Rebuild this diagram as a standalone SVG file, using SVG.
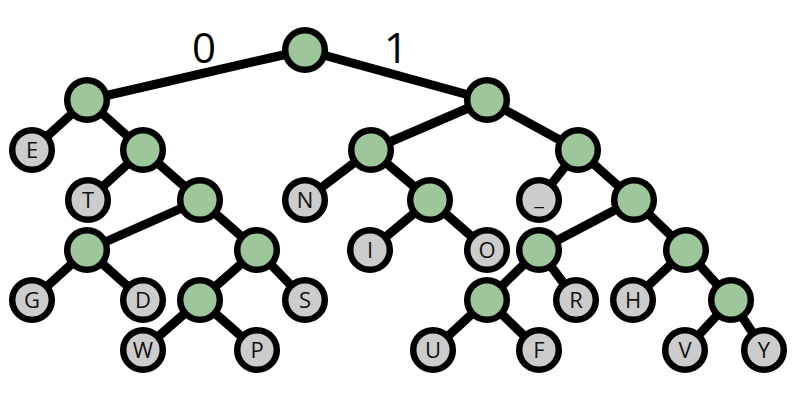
<svg xmlns="http://www.w3.org/2000/svg" width="796" height="400" viewBox="0 0 796 400">
<style>
.e{stroke:#000;stroke-width:9;stroke-linecap:round}
.n circle{stroke:#000;stroke-width:6.5}
.g circle{fill:#9dc79b}
.l circle{fill:#cccccc}
.l text{font-family:"Open Sans","Liberation Sans",sans-serif;font-size:22px;text-anchor:middle;fill:#111}
.lbl{font-family:"Open Sans","Liberation Sans",sans-serif;font-size:42px;text-anchor:middle;fill:#000}
</style>
<rect width="796" height="400" fill="#fff"/>
<g id="edges">
<line class="e" x1="305" y1="50" x2="87" y2="100"/>
<line class="e" x1="305" y1="50" x2="487" y2="100"/>
<line class="e" x1="87" y1="100" x2="32" y2="150"/>
<line class="e" x1="87" y1="100" x2="143" y2="150"/>
<line class="e" x1="143" y1="150" x2="88" y2="200"/>
<line class="e" x1="143" y1="150" x2="200" y2="200"/>
<line class="e" x1="200" y1="200" x2="87" y2="250"/>
<line class="e" x1="200" y1="200" x2="257" y2="250"/>
<line class="e" x1="87" y1="250" x2="32" y2="300"/>
<line class="e" x1="87" y1="250" x2="143" y2="300"/>
<line class="e" x1="257" y1="250" x2="200" y2="300"/>
<line class="e" x1="257" y1="250" x2="305" y2="300"/>
<line class="e" x1="200" y1="300" x2="143" y2="350"/>
<line class="e" x1="200" y1="300" x2="257" y2="350"/>
<line class="e" x1="487" y1="100" x2="371" y2="150"/>
<line class="e" x1="487" y1="100" x2="578" y2="150"/>
<line class="e" x1="371" y1="150" x2="305" y2="200"/>
<line class="e" x1="371" y1="150" x2="430" y2="200"/>
<line class="e" x1="430" y1="200" x2="370" y2="250"/>
<line class="e" x1="430" y1="200" x2="487" y2="250"/>
<line class="e" x1="578" y1="150" x2="539" y2="200"/>
<line class="e" x1="578" y1="150" x2="634" y2="200"/>
<line class="e" x1="634" y1="200" x2="539" y2="250"/>
<line class="e" x1="634" y1="200" x2="686" y2="250"/>
<line class="e" x1="539" y1="250" x2="487" y2="300"/>
<line class="e" x1="539" y1="250" x2="576" y2="300"/>
<line class="e" x1="487" y1="300" x2="433" y2="350"/>
<line class="e" x1="487" y1="300" x2="539" y2="350"/>
<line class="e" x1="686" y1="250" x2="633" y2="300"/>
<line class="e" x1="686" y1="250" x2="731" y2="300"/>
<line class="e" x1="731" y1="300" x2="685" y2="350"/>
<line class="e" x1="731" y1="300" x2="764" y2="350"/>
</g>
<text class="lbl" x="204" y="63">0</text>
<text class="lbl" x="396" y="63">1</text>
<g id="root" class="n g"><circle cx="305" cy="50" r="19.8"/></g>
<g id="n0" class="n g"><circle cx="87" cy="100" r="19.8"/></g>
<g id="n1" class="n g"><circle cx="487" cy="100" r="19.8"/></g>
<g id="n01" class="n g"><circle cx="143" cy="150" r="19.8"/></g>
<g id="n011" class="n g"><circle cx="200" cy="200" r="19.8"/></g>
<g id="n0110" class="n g"><circle cx="87" cy="250" r="19.8"/></g>
<g id="n0111" class="n g"><circle cx="257" cy="250" r="19.8"/></g>
<g id="n01110" class="n g"><circle cx="200" cy="300" r="19.8"/></g>
<g id="n10" class="n g"><circle cx="371" cy="150" r="19.8"/></g>
<g id="n101" class="n g"><circle cx="430" cy="200" r="19.8"/></g>
<g id="n11" class="n g"><circle cx="578" cy="150" r="19.8"/></g>
<g id="n111" class="n g"><circle cx="634" cy="200" r="19.8"/></g>
<g id="n1110" class="n g"><circle cx="539" cy="250" r="19.8"/></g>
<g id="n11100" class="n g"><circle cx="487" cy="300" r="19.8"/></g>
<g id="n1111" class="n g"><circle cx="686" cy="250" r="19.8"/></g>
<g id="n11111" class="n g"><circle cx="731" cy="300" r="19.8"/></g>
<g id="E" class="n l"><circle cx="32" cy="150" r="19.8"/><text x="32" y="158">E</text></g>
<g id="T" class="n l"><circle cx="88" cy="200" r="19.8"/><text x="88" y="208">T</text></g>
<g id="G" class="n l"><circle cx="32" cy="300" r="19.8"/><text x="32" y="308">G</text></g>
<g id="D" class="n l"><circle cx="143" cy="300" r="19.8"/><text x="143" y="308">D</text></g>
<g id="S" class="n l"><circle cx="305" cy="300" r="19.8"/><text x="305" y="308">S</text></g>
<g id="W" class="n l"><circle cx="143" cy="350" r="19.8"/><text x="143" y="358">W</text></g>
<g id="P" class="n l"><circle cx="257" cy="350" r="19.8"/><text x="257" y="358">P</text></g>
<g id="N" class="n l"><circle cx="305" cy="200" r="19.8"/><text x="305" y="208">N</text></g>
<g id="I" class="n l"><circle cx="370" cy="250" r="19.8"/><text x="370" y="258">I</text></g>
<g id="O" class="n l"><circle cx="487" cy="250" r="19.8"/><text x="487" y="258">O</text></g>
<g id="space" class="n l"><circle cx="539" cy="200" r="19.8"/><text x="539" y="205">_</text></g>
<g id="R" class="n l"><circle cx="576" cy="300" r="19.8"/><text x="576" y="308">R</text></g>
<g id="U" class="n l"><circle cx="433" cy="350" r="19.8"/><text x="433" y="358">U</text></g>
<g id="F" class="n l"><circle cx="539" cy="350" r="19.8"/><text x="539" y="358">F</text></g>
<g id="H" class="n l"><circle cx="633" cy="300" r="19.8"/><text x="633" y="308">H</text></g>
<g id="V" class="n l"><circle cx="685" cy="350" r="19.8"/><text x="685" y="358">V</text></g>
<g id="Y" class="n l"><circle cx="764" cy="350" r="19.8"/><text x="764" y="358">Y</text></g>
</svg>
